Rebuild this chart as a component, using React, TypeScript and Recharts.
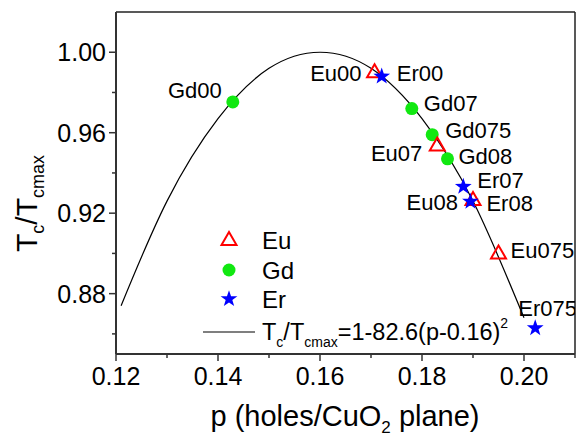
import React from "react";
import { ComposedChart, Line, Scatter, XAxis, YAxis, Legend, ReferenceLine } from "recharts";

// ---- data ----
const euNames = ["Eu00", "Eu07", "Eu08", "Eu075"];
const euP = [0.1707, 0.183, 0.19, 0.195];
const euT = [0.99, 0.9536, 0.9266, 0.9];

const gdNames = ["Gd00", "Gd07", "Gd075", "Gd08"];
const gdP = [0.1429, 0.178, 0.182, 0.185];
const gdT = [0.9753, 0.972, 0.959, 0.947];

const erNames = ["Er00", "Er07", "Er08", "Er075"];
const erP = [0.1721, 0.1881, 0.1895, 0.2022];
const erT = [0.988, 0.9332, 0.9258, 0.8629];

// fitted curve, points
const curveP = [0.121, 0.13, 0.14, 0.15, 0.16, 0.17, 0.18, 0.19, 0.2];
const curveT = [0.874, 0.926, 0.967, 0.992, 1.0, 0.992, 0.967, 0.926, 0.868];

const xDomain = [0.12, 0.21];
const yDomain = [0.85, 1.02];
const xMajorTicks = [0.12, 0.14, 0.16, 0.18, 0.2];
const xMajorLabels = ["0.12", "0.14", "0.16", "0.18", "0.20"];
const xMinorTicks = [0.13, 0.15, 0.17, 0.19, 0.21];
const yMajorTicks = [0.88, 0.92, 0.96, 1.0];
const yMajorLabels = ["0.88", "0.92", "0.96", "1.00"];
const yMinorTicks = [0.86, 0.9, 0.94, 0.98, 1.02];

// ---- styling / placement (kept apart from data) ----
const FONT = "'Liberation Sans', Arial, Helvetica, sans-serif";
const RED = "#ff0000";
const GREEN = "#11e811";
const BLUE = "#0000ff";

const labelPlace: Record<string, [number, number, "start" | "end" | "middle"]> = {
  Gd00: [-11, -11, "end"],
  Eu00: [-13, 1, "end"],
  Er00: [15, -3, "start"],
  Gd07: [12, -5, "start"],
  Gd075: [13, -4, "start"],
  Eu07: [-15, 8, "end"],
  Gd08: [11, -2, "start"],
  Er07: [14, -6, "start"],
  Eu08: [-15, 3, "end"],
  Er08: [16, 2, "start"],
  Eu075: [12, -3, "start"],
  Er075: [-17, -20, "start"],
};

const mk = (names: string[], ps: number[], ts: number[]) =>
  names.map((n, i) => ({ name: n, p: ps[i], t: ts[i] }));
const euData = mk(euNames, euP, euT);
const gdData = mk(gdNames, gdP, gdT);
const erData = mk(erNames, erP, erT);
const curveData = curveP.map((p, i) => ({ p, t: curveT[i] }));

const starPath = (cx: number, cy: number, R: number, r: number) => {
  let d = "";
  for (let i = 0; i < 10; i++) {
    const ang = -Math.PI / 2 + (i * Math.PI) / 5;
    const rad = i % 2 === 0 ? R : r;
    d += (i === 0 ? "M" : "L") + (cx + rad * Math.cos(ang)).toFixed(2) + "," + (cy + rad * Math.sin(ang)).toFixed(2);
  }
  return d + "Z";
};

const Triangle = ({ cx, cy }: { cx: number; cy: number }) => (
  <path
    d={`M${cx},${cy - 8}L${cx + 7.5},${cy + 5}L${cx - 7.5},${cy + 5}Z`}
    fill="none"
    stroke={RED}
    strokeWidth={2}
  />
);
const Dot = ({ cx, cy }: { cx: number; cy: number }) => <circle cx={cx} cy={cy} r={6.5} fill={GREEN} />;
const Star = ({ cx, cy }: { cx: number; cy: number }) => <path d={starPath(cx, cy, 8.8, 3.5)} fill={BLUE} />;

const PointLabel = ({ cx, cy, name }: { cx: number; cy: number; name: string }) => {
  const pl = labelPlace[name] || [10, 0, "start"];
  return (
    <text
      x={cx + pl[0]}
      y={cy + pl[1]}
      textAnchor={pl[2]}
      dominantBaseline="central"
      fontFamily={FONT}
      fontSize={22}
      fill="#000"
    >
      {name}
    </text>
  );
};

const makeShape = (Marker: any) => (props: any) => {
  const { cx, cy, payload } = props;
  if (cx == null || cy == null) return <g />;
  return (
    <g>
      <Marker cx={cx} cy={cy} />
      <PointLabel cx={cx} cy={cy} name={payload.name} />
    </g>
  );
};

const near = (a: number, b: number) => Math.abs(a - b) < 1e-6;

const XTick = (props: any) => {
  const { x, y, payload } = props;
  const v = payload.value;
  const mi = xMajorTicks.findIndex((t) => near(t, v));
  const major = mi >= 0;
  return (
    <g>
      <line x1={x} x2={x} y1={y} y2={y + (major ? 7 : 4)} stroke="#333" strokeWidth={1.5} />
      {major && (
        <text x={x} y={y + 31} textAnchor="middle" fontFamily={FONT} fontSize={25} fill="#000">
          {xMajorLabels[mi]}
        </text>
      )}
    </g>
  );
};

const YTick = (props: any) => {
  const { x, y, payload } = props;
  const v = payload.value;
  const mi = yMajorTicks.findIndex((t) => near(t, v));
  const major = mi >= 0;
  if (near(v, 1.02)) return <g />;
  return (
    <g>
      <line x1={x - (major ? 7 : 4)} x2={x} y1={y} y2={y} stroke="#333" strokeWidth={1.5} />
      {major && (
        <text x={x - 10} y={y + 9} textAnchor="end" fontFamily={FONT} fontSize={25} fill="#000">
          {yMajorLabels[mi]}
        </text>
      )}
    </g>
  );
};

const XLabel = () => (
  <text x={345} y={426} textAnchor="middle" fontFamily={FONT} fontSize={29} fill="#000">
    p (holes/CuO
    <tspan fontSize={17} dy={7}>2</tspan>
    <tspan dy={-7}> plane)</tspan>
  </text>
);

const YLabel = () => (
  <text
    x={0}
    y={0}
    transform="translate(37,203.5) rotate(-90)"
    textAnchor="middle"
    fontFamily={FONT}
    fontSize={30}
    fill="#000"
  >
    T<tspan fontSize={18} dy={7}>c</tspan>
    <tspan dy={-7}>/T</tspan>
    <tspan fontSize={18} dy={7}>cmax</tspan>
  </text>
);

const LegendContent = () => (
  <svg width={340} height={125} style={{ overflow: "visible", display: "block" }}>
    <Triangle cx={34} cy={15} />
    <text x={67} y={15} dominantBaseline="central" fontFamily={FONT} fontSize={24} fill="#000">Eu</text>
    <Dot cx={34} cy={45} />
    <text x={67} y={45} dominantBaseline="central" fontFamily={FONT} fontSize={24} fill="#000">Gd</text>
    <path d={starPath(34, 74, 8.8, 3.5)} fill={BLUE} />
    <text x={67} y={74} dominantBaseline="central" fontFamily={FONT} fontSize={24} fill="#000">Er</text>
    <line x1={8} x2={60} y1={107} y2={107} stroke="#000" strokeWidth={1.2} />
    <text x={67} y={115} fontFamily={FONT} fontSize={23.5} fill="#000">
      T<tspan fontSize={14} dy={7}>c</tspan>
      <tspan dy={-7}>/T</tspan>
      <tspan fontSize={14} dy={7}>cmax</tspan>
      <tspan dy={-7}>=1-82.6(p-0.16)</tspan>
      <tspan fontSize={14} dy={-12}>2</tspan>
    </text>
  </svg>
);

export default function App() {
  return (
    <div style={{ position: "absolute", left: 0, top: 0, width: 577, height: 437, background: "#fff" }}>
      <ComposedChart width={577} height={437} margin={{ top: 12, right: 2, bottom: 0, left: 0 }}>
        <XAxis
          xAxisId="b"
          dataKey="p"
          type="number"
          domain={xDomain}
          allowDataOverflow
          ticks={[...xMajorTicks, ...xMinorTicks].sort((a, b) => a - b)}
          interval={0}
          tick={<XTick />}
          tickLine={false}
          tickSize={0}
          tickMargin={0}
          height={83}
          axisLine={{ stroke: "#333", strokeWidth: 2 }}
          label={<XLabel />}
        />
        <YAxis
          yAxisId="l"
          dataKey="t"
          type="number"
          domain={yDomain}
          allowDataOverflow
          ticks={[...yMajorTicks, ...yMinorTicks].sort((a, b) => a - b)}
          interval={0}
          tick={<YTick />}
          tickLine={false}
          tickSize={0}
          tickMargin={0}
          width={116}
          axisLine={{ stroke: "#333", strokeWidth: 2 }}
          label={<YLabel />}
        />
        <ReferenceLine xAxisId="b" yAxisId="l" y={yDomain[1]} stroke="#222" strokeWidth={1.5} ifOverflow="extendDomain" />
        <ReferenceLine xAxisId="b" yAxisId="l" x={xDomain[1]} stroke="#222" strokeWidth={1.5} ifOverflow="extendDomain" />
        <Legend
          layout="vertical"
          align="center"
          verticalAlign="middle"
          wrapperStyle={{ left: 195, top: 225, width: 340, height: 125 }}
          content={<LegendContent />}
        />
        <Scatter xAxisId="b" yAxisId="l" name="Gd" data={gdData} dataKey="t" shape={makeShape(Dot)} isAnimationActive={false} />
        <Scatter xAxisId="b" yAxisId="l" name="Eu" data={euData} dataKey="t" shape={makeShape(Triangle)} isAnimationActive={false} />
        <Scatter xAxisId="b" yAxisId="l" name="Er" data={erData} dataKey="t" shape={makeShape(Star)} isAnimationActive={false} />
        <Line
          xAxisId="b"
          yAxisId="l"
          data={curveData}
          dataKey="t"
          type="natural"
          stroke="#000"
          strokeWidth={1.2}
          dot={false}
          activeDot={false}
          isAnimationActive={false}
        />
      </ComposedChart>
    </div>
  );
}
